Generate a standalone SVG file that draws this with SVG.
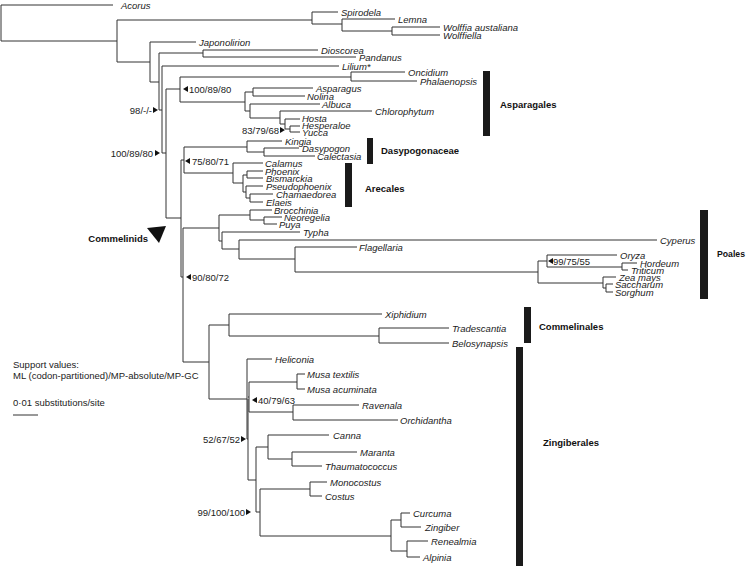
<svg xmlns="http://www.w3.org/2000/svg" width="747" height="566" viewBox="0 0 747 566">
<style>
.t{font-family:"Liberation Sans",Arial,sans-serif;font-size:9.5px;font-style:italic;fill:#222}
.s{font-family:"Liberation Sans",Arial,sans-serif;font-size:9.5px;fill:#222}
.c{font-family:"Liberation Sans",Arial,sans-serif;font-size:9.5px;font-weight:bold;fill:#111}
.e{fill:none;stroke:#333;stroke-width:1}
.bar{fill:#1a1a1a}
.tri{fill:#111}
</style>
<defs>
<path id="tl" d="M0,0 L5,-3 L5,3 Z"/>
<path id="tr" d="M0,-3 L5,0 L0,3 Z"/>
</defs>
<g id="connectors" class="e">
<path d="M1,5V41M1,5H113M1,41H117M117,20V62M117,20H312M312,12V24M312,12H338M312,24H342M342,19V31M342,19H395M342,31H392M392,27V35M392,27H440M392,35H440"/>
<path d="M117,62H150M150,42V82M150,42H196M150,82H159M159,53V110M159,53H203M203,50V57M203,50H318M203,57H356M159,110H162M162,66V153M162,66H339M162,153H166M166,89V218"/>
<path d="M166,89H180M180,77V102M180,77H351M351,72V81M351,72H405M351,81H417M180,102H245M245,92V111M245,92H253M253,88V96M253,88H313M253,96H305M245,111H250M250,104V118M250,104H320M250,118H280M280,111V124M280,111H372M280,124H285M285,119V129M285,119H300M285,129H290M290,126V132M290,126H300M290,132H300"/>
<path d="M166,218H181M181,160V277M181,160H184M184,147V173M184,147H247M247,141V152M247,141H282M247,152H264M264,148V156M264,148H299M264,156H315M184,173H233M233,163V183M233,163H263M233,183H243M243,175V192M243,175H247M247,171V178M247,171H263M247,178H263M243,192H246M246,186V198M246,186H263M246,198H250M250,194V202M250,194H273M250,202H263"/>
<path d="M181,277H183M183,228V362M183,228H219M219,215V241M219,215H250M250,210V220M250,210H272M250,220H264M264,217V224M264,217H282M264,224H277M219,241H222M222,232V249M222,232H300M222,249H239M239,240V259M239,240H657M239,259H295M295,247V272M295,247H357M295,272H538M538,261V283M538,261H547M547,255V267M547,255H617M547,267H622M622,263V270M622,263H637M622,270H628M538,283H603M603,277V288M603,277H616M603,288H606M606,284V292M606,284H613M606,292H613"/>
<path d="M183,362H209M209,325V399M209,325H229M229,314V336M229,314H382M229,336H379M379,328V343M379,328H449M379,343H449"/>
<path d="M209,399H247M247,359V439M247,359H272M247,439H248M248,399V480M248,397H249M249,382V412M249,382H297M297,374V389M297,374H305M297,389H305M249,412H293M293,405V420M293,405H359M293,420H398M248,480H256M256,447V512M256,447H268M268,435V459M268,435H329M268,459H292M292,452V466M292,452H357M292,466H322M256,512H260M260,489V536M260,489H310M310,482V496M310,482H327M310,496H322M260,536H391M391,520V551M391,520H401M401,513V527M401,513H410M401,527H421M391,551H407M407,541V557M407,541H428M407,557H420"/>
<path d="M13,415H38"/>
</g>
<g id="taxa">
<g id="n-acorus"><text class="t" x="121" y="8.5">Acorus</text></g>
<g id="n-spirodela"><text class="t" x="341" y="15.5">Spirodela</text></g>
<g id="n-lemna"><text class="t" x="398" y="22.5">Lemna</text></g>
<g id="n-wolffia"><text class="t" x="443" y="30.5">Wolffia austaliana</text></g>
<g id="n-wolffiella"><text class="t" x="443" y="38.5">Wolffiella</text></g>
<g id="n-japonolirion"><text class="t" x="199" y="45.5">Japonolirion</text></g>
<g id="n-dioscorea"><text class="t" x="321" y="53.5">Dioscorea</text></g>
<g id="n-pandanus"><text class="t" x="359" y="60.5">Pandanus</text></g>
<g id="n-lilium"><text class="t" x="342" y="69.5">Lilium*</text></g>
<g id="n-oncidium"><text class="t" x="408" y="75.5">Oncidium</text></g>
<g id="n-phalaenopsis"><text class="t" x="420" y="84.5">Phalaenopsis</text></g>
<g id="n-asparagus"><text class="t" x="316" y="91.5">Asparagus</text></g>
<g id="n-nolina"><text class="t" x="307" y="99.5">Nolina</text></g>
<g id="n-albuca"><text class="t" x="322" y="107.5">Albuca</text></g>
<g id="n-chlorophytum"><text class="t" x="375" y="114.5">Chlorophytum</text></g>
<g id="n-hosta"><text class="t" x="302" y="122">Hosta</text></g>
<g id="n-hesperaloe"><text class="t" x="302" y="129">Hesperaloe</text></g>
<g id="n-yucca"><text class="t" x="302" y="135.5">Yucca</text></g>
<g id="n-kingia"><text class="t" x="285" y="144.5">Kingia</text></g>
<g id="n-dasypogon"><text class="t" x="302" y="151.5">Dasypogon</text></g>
<g id="n-calectasia"><text class="t" x="317" y="159.5">Calectasia</text></g>
<g id="n-calamus"><text class="t" x="265" y="166.5">Calamus</text></g>
<g id="n-phoenix"><text class="t" x="265" y="174.5">Phoenix</text></g>
<g id="n-bismarckia"><text class="t" x="266" y="181.5">Bismarckia</text></g>
<g id="n-pseudophoenix"><text class="t" x="266" y="189.5">Pseudophoenix</text></g>
<g id="n-chamaedorea"><text class="t" x="276" y="197.5">Chamaedorea</text></g>
<g id="n-elaeis"><text class="t" x="266" y="205.5">Elaeis</text></g>
<g id="n-brocchinia"><text class="t" x="274" y="213.5">Brocchinia</text></g>
<g id="n-neoregelia"><text class="t" x="284" y="220.5">Neoregelia</text></g>
<g id="n-puya"><text class="t" x="279" y="227.5">Puya</text></g>
<g id="n-typha"><text class="t" x="303" y="235.5">Typha</text></g>
<g id="n-cyperus"><text class="t" x="660" y="243.5">Cyperus</text></g>
<g id="n-flagellaria"><text class="t" x="359" y="250.5">Flagellaria</text></g>
<g id="n-oryza"><text class="t" x="620" y="258.5">Oryza</text></g>
<g id="n-hordeum"><text class="t" x="640" y="266.5">Hordeum</text></g>
<g id="n-triticum"><text class="t" x="631" y="273.5">Triticum</text></g>
<g id="n-zea"><text class="t" x="619" y="280.5">Zea mays</text></g>
<g id="n-saccharum"><text class="t" x="615" y="287.5">Saccharum</text></g>
<g id="n-sorghum"><text class="t" x="615" y="295.5">Sorghum</text></g>
<g id="n-xiphidium"><text class="t" x="385" y="317.5">Xiphidium</text></g>
<g id="n-tradescantia"><text class="t" x="452" y="331.5">Tradescantia</text></g>
<g id="n-belosynapsis"><text class="t" x="452" y="346.5">Belosynapsis</text></g>
<g id="n-heliconia"><text class="t" x="275" y="362.5">Heliconia</text></g>
<g id="n-musat"><text class="t" x="307" y="377.5">Musa textilis</text></g>
<g id="n-musaa"><text class="t" x="307" y="392.5">Musa acuminata</text></g>
<g id="n-ravenala"><text class="t" x="362" y="408.5">Ravenala</text></g>
<g id="n-orchidantha"><text class="t" x="400" y="423.5">Orchidantha</text></g>
<g id="n-canna"><text class="t" x="333" y="438.5">Canna</text></g>
<g id="n-maranta"><text class="t" x="360" y="455.5">Maranta</text></g>
<g id="n-thaumatococcus"><text class="t" x="325" y="469.5">Thaumatococcus</text></g>
<g id="n-monocostus"><text class="t" x="330" y="485.5">Monocostus</text></g>
<g id="n-costus"><text class="t" x="325" y="499.5">Costus</text></g>
<g id="n-curcuma"><text class="t" x="413" y="516.5">Curcuma</text></g>
<g id="n-zingiber"><text class="t" x="425" y="530.5">Zingiber</text></g>
<g id="n-renealmia"><text class="t" x="431" y="544.5">Renealmia</text></g>
<g id="n-alpinia"><text class="t" x="423" y="560.5">Alpinia</text></g>
</g>
<g id="support">
<g id="sv-1"><use href="#tl" x="183" y="89" class="tri"/><text class="s" x="189" y="92.5">100/89/80</text></g>
<g id="sv-2"><text class="s" x="152" y="113.5" text-anchor="end">98/-/-</text><use href="#tr" x="153" y="110" class="tri"/></g>
<g id="sv-3"><text class="s" x="153" y="156.5" text-anchor="end">100/89/80</text><use href="#tr" x="155" y="153" class="tri"/></g>
<g id="sv-4"><text class="s" x="279" y="133.5" text-anchor="end">83/79/68</text><use href="#tr" x="280" y="130" class="tri"/></g>
<g id="sv-5"><use href="#tl" x="185" y="161" class="tri"/><text class="s" x="192" y="164.5">75/80/71</text></g>
<g id="sv-6"><use href="#tl" x="186" y="277" class="tri"/><text class="s" x="192" y="280.5">90/80/72</text></g>
<g id="sv-7"><use href="#tl" x="548" y="261" class="tri"/><text class="s" x="553" y="264.5">99/75/55</text></g>
<g id="sv-8"><use href="#tl" x="252" y="400" class="tri"/><text class="s" x="258" y="403.5">40/79/63</text></g>
<g id="sv-9"><text class="s" x="240" y="442.5" text-anchor="end">52/67/52</text><use href="#tr" x="241" y="439" class="tri"/></g>
<g id="sv-10"><text class="s" x="245" y="515.5" text-anchor="end">99/100/100</text><use href="#tr" x="246" y="512" class="tri"/></g>
</g>
<g id="clades">
<g id="c-asparagales"><rect class="bar" x="483" y="71" width="7" height="65"/><text class="c" x="500" y="107.5">Asparagales</text></g>
<g id="c-dasypogonaceae"><rect class="bar" x="367" y="138" width="6" height="26"/><text class="c" x="381" y="153.5">Dasypogonaceae</text></g>
<g id="c-arecales"><rect class="bar" x="345" y="163" width="7" height="44"/><text class="c" x="365" y="192">Arecales</text></g>
<g id="c-poales"><rect class="bar" x="700" y="210" width="8" height="89"/><text class="c" x="717" y="256.5" textLength="28" lengthAdjust="spacingAndGlyphs">Poales</text></g>
<g id="c-commelinales"><rect class="bar" x="524" y="307" width="7" height="36"/><text class="c" x="539" y="329.5">Commelinales</text></g>
<g id="c-zingiberales"><rect class="bar" x="516" y="347" width="7" height="219"/><text class="c" x="543" y="445.5">Zingiberales</text></g>
<g id="c-commelinids"><path class="tri" d="M147,228L166,226L159,243Z"/><text class="c" x="148" y="241.5" text-anchor="end">Commelinids</text></g>
</g>
<g id="legend">
<text class="s" x="13" y="367.5">Support values:</text>
<text class="s" x="13" y="378.5">ML (codon-partitioned)/MP-absolute/MP-GC</text>
<text class="s" x="13" y="405.5">0·01 substitutions/site</text>
</g>
</svg>
